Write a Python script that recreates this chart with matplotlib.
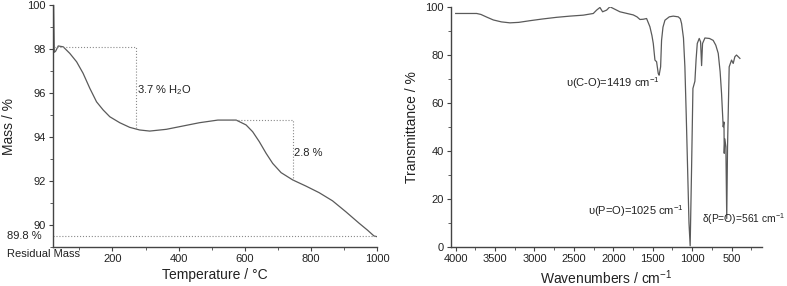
import matplotlib
matplotlib.use("Agg")
import matplotlib.pyplot as plt
from matplotlib.ticker import MultipleLocator

plt.rcParams['font.family'] = ['Liberation Sans', 'DejaVu Sans']
plt.rcParams['mathtext.fontset'] = 'custom'
plt.rcParams['mathtext.rm'] = 'Liberation Sans'
plt.rcParams['mathtext.default'] = 'regular'

# ---------------- TGA data ----------------
tga_temp = [22, 24, 28, 36, 51, 71, 91.5, 111, 131.6, 151.8, 171.8, 192, 222, 252,
            282, 312.6, 363, 413, 463, 518.7, 574, 604, 624, 644, 664.6, 684.6,
            710, 745, 785, 825, 865.5, 906, 946, 971, 991, 1000]
tga_mass = [100.0, 97.85, 97.9, 98.14, 98.1, 97.8, 97.42, 96.9, 96.21, 95.6, 95.23,
            94.92, 94.65, 94.44, 94.32, 94.27, 94.35, 94.5, 94.65, 94.77, 94.77,
            94.55, 94.24, 93.79, 93.26, 92.8, 92.38, 92.05, 91.77, 91.47, 91.1,
            90.6, 90.08, 89.77, 89.5, 89.47]
step1 = [24, 272, 98.08, 94.4]   # x start, x of vertical, y top, y bottom
step2 = [563, 745, 94.77, 92.05]
residual = 89.5

# ---------------- IR data ----------------
ir_wn = [4000, 3800, 3734, 3680, 3600, 3522, 3420, 3311, 3200, 3057, 2900, 2719,
         2550, 2381, 2254, 2212, 2170, 2136, 2085, 2043, 2001, 1916, 1800, 1747,
         1700, 1662, 1620, 1578, 1536, 1510, 1493, 1472, 1451, 1430, 1419, 1400,
         1388, 1370, 1345, 1290, 1240, 1176, 1150, 1134, 1110, 1092, 1075, 1058,
         1040, 1025, 1007, 990, 965, 950, 935, 910, 893, 880, 868, 838, 780, 733,
         700, 669, 645, 627, 606, 596, 593, 585, 572, 561, 551, 530, 500, 479,
         458, 437, 394]
ir_t = [97.2, 97.2, 97.2, 96.8, 95.6, 94.5, 93.7, 93.3, 93.5, 94.2, 94.9, 95.6,
        96.1, 96.5, 97.2, 98.6, 99.7, 97.9, 98.6, 100.0, 99.3, 97.9, 97.0, 96.6,
        95.8, 94.7, 94.8, 95.1, 91.7, 88.0, 84.7, 77.8, 77.1, 72.2, 71.5, 75.0,
        86.0, 91.5, 94.4, 95.8, 96.1, 95.8, 95.0, 93.0, 87.0, 75.0, 55.0, 33.3,
        10.0, 0.5, 33.0, 66.0, 69.0, 78.0, 84.7, 86.8, 85.4, 75.5, 84.7, 87.0,
        86.8, 86.0, 84.0, 80.6, 73.0, 64.0, 50.0, 52.0, 39.0, 45.0, 41.7, 11.8,
        41.7, 75.0, 77.8, 76.4, 79.2, 79.9, 78.5]

fig = plt.figure(figsize=(7.87, 2.86), dpi=100)
txt = '#222222'
linec = '#5a5a5a'
dotc = '#8a8a8a'

# ---------------- left ----------------
ax1 = fig.add_axes([0.0673, 0.1364, 0.4117, 0.846])
ax1.plot(tga_temp, tga_mass, color=linec, lw=0.9)
ax1.plot([step1[0], step1[1], step1[1]], [step1[2], step1[2], step1[3]],
         ls=':', color=dotc, lw=0.8)
ax1.plot([step2[0], step2[1], step2[1]], [step2[2], step2[2], step2[3]],
         ls=':', color=dotc, lw=0.8)
ax1.axhline(residual, ls=':', color=dotc, lw=0.8)
ax1.set_xlim(20, 1000)
ax1.set_ylim(89, 100)
ax1.xaxis.set_minor_locator(MultipleLocator(100))
ax1.yaxis.set_minor_locator(MultipleLocator(1))
ax1.set_xticks([200, 400, 600, 800, 1000])
ax1.set_yticks([90, 92, 94, 96, 98, 100])
ax1.text(275, 96.14, '3.7 % H$_2$O', fontsize=8, color=txt, va='center')
ax1.text(750, 93.27, '2.8 %', fontsize=8, color=txt, va='center')
ax1.text(-0.142, residual, '89.8 %', transform=ax1.get_yaxis_transform(),
         fontsize=8, color=txt, va='center', ha='left')
ax1.text(-0.142, -0.03, 'Residual Mass', transform=ax1.transAxes,
         fontsize=8, color=txt, va='center', ha='left')
ax1.set_xlabel('Temperature / °C', fontsize=10, color=txt, labelpad=3)
ax1.set_ylabel('Mass / %', fontsize=10, color=txt, labelpad=8)

# ---------------- right ----------------
ax2 = fig.add_axes([0.573, 0.1364, 0.395, 0.84])
ax2.plot(ir_wn, ir_t, color=linec, lw=0.9)
ax2.set_xlim(4060, 116)
ax2.set_ylim(0, 100)
ax2.xaxis.set_minor_locator(MultipleLocator(250))
ax2.set_xticks([4000, 3500, 3000, 2500, 2000, 1500, 1000, 500])
ax2.set_yticks([0, 20, 40, 60, 80, 100])
ax2.yaxis.set_minor_locator(MultipleLocator(10))
ax2.text(1405, 68.3, 'υ(C-O)=1419 cm$^{-1}$', fontsize=8, color=txt, ha='right', va='center')
ax2.text(1110, 14.9, 'υ(P=O)=1025 cm$^{-1}$', fontsize=8, color=txt, ha='right', va='center')
ax2.text(880, 11.8, 'δ(P=O)=561 cm$^{-1}$', fontsize=7.4, color=txt, ha='left', va='center',
         clip_on=False)
ax2.set_xlabel('Wavenumbers / cm$^{-1}$', fontsize=10, color=txt, labelpad=3)
ax2.set_ylabel('Transmittance / %', fontsize=10, color=txt, labelpad=5)

for ax in (ax1, ax2):
    for s in ('top', 'right'):
        ax.spines[s].set_visible(False)
    for s in ('left', 'bottom'):
        ax.spines[s].set_color('#444444')
        ax.spines[s].set_linewidth(1.0)
    ax.tick_params(which='major', direction='out', length=3, width=0.8,
                   colors='#444444', labelsize=8, labelcolor=txt, pad=2)
    ax.tick_params(which='minor', direction='out', length=2, width=0.6, colors='#444444')

fig.savefig('out.png', dpi=100)
